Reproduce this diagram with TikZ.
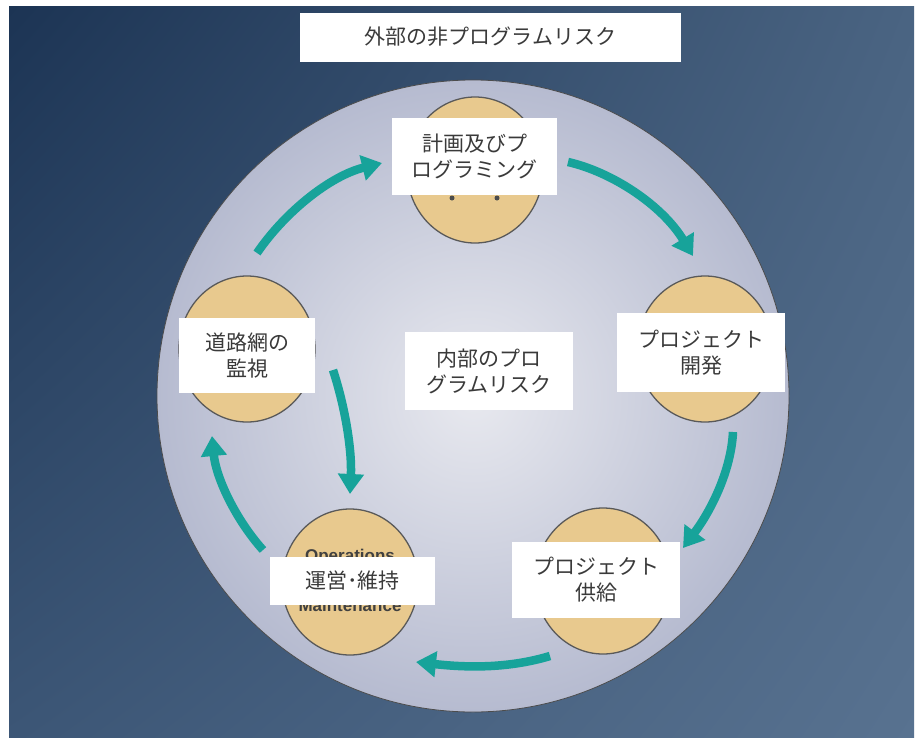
\documentclass[tikz,border=0pt]{standalone}
\usepackage{fontspec}
\setmainfont{Liberation Sans}
\newfontfamily\jp{Noto Sans CJK JP}
\usetikzlibrary{arrows.meta,shapes.geometric,shadings}
\definecolor{bgA}{HTML}{1C3454}
\definecolor{bgB}{HTML}{4A6482}
\definecolor{bgC}{HTML}{3C5676}
\definecolor{bgD}{HTML}{587290}
\definecolor{discIn}{HTML}{E8E9EF}
\definecolor{discOut}{HTML}{B6BBD0}
\definecolor{tanfill}{HTML}{E8C98E}
\definecolor{teal1}{HTML}{17A39A}
\definecolor{txt}{HTML}{3A3A3A}
\begin{document}
\begin{tikzpicture}[x=1pt,y=-1pt,
  lbl/.style={fill=white, inner sep=0pt, align=center, text=txt,
              font=\jp\fontsize{21}{26}\selectfont},
  stage/.style={ellipse, draw=black!65, line width=1.3pt, fill=tanfill,
                minimum width=136pt, minimum height=146pt, inner sep=0pt},
  flow/.style={draw=teal1, line width=8.5pt, line cap=butt,
               -{Triangle[width=25pt,length=20pt]}},
  engl/.style={font=\bfseries\fontsize{17}{19}\selectfont, text=black!75}
]
\useasboundingbox (0,0) rectangle (921,742);
\fill[white] (0,0) rectangle (921,742);
\shade[upper left=bgA, upper right=bgB, lower left=bgC, lower right=bgD]
  (9,6) rectangle (914,737);
% big disc
\shade[inner color=discIn, outer color=discOut] (473,396) circle[radius=316pt];
\draw[black!70, line width=0.8pt] (473,396) circle[radius=316pt];

% outer label
\node[lbl, minimum width=381pt, minimum height=49pt] (ext) at (490.5,37) {外部の非プログラムリスク};

% stage circles
\node[stage] (cTop) at (475,170) {};
\node[stage] (cRight) at (705,349) {};
\node[stage] (cBR) at (603,581) {};
\node[stage] (cBL) at (350,582) {};
\node[stage] (cLeft) at (247,349) {};

% partially hidden English text
\node[engl] (opsEn) at (350,557) {Operations};
\node[engl] (mntEn) at (350,605) {Maintenance};
\fill[black!70] (452,198) circle[radius=2.5pt];
\fill[black!70] (497,198) circle[radius=2.5pt];

% labels
\node[lbl, minimum width=165pt, minimum height=77pt] (lTop) at (474.5,156.5) {計画及びプ\\ログラミング};
\node[lbl, minimum width=168pt, minimum height=79pt] (lRight) at (701,352.5) {プロジェクト\\開発};
\node[lbl, minimum width=168pt, minimum height=76pt] (lBR) at (596,580) {プロジェクト\\供給};
\node[lbl, minimum width=165pt, minimum height=48pt] (lBL) at (352.5,581) {運営･維持};
\node[lbl, minimum width=136pt, minimum height=75pt] (lLeft) at (247,355.5) {道路網の\\監視};
\node[lbl, minimum width=168pt, minimum height=78pt] (lCenter) at (489,371) {内部のプロ\\グラムリスク};

% arrow end points
\coordinate (a1s) at (257,253); \coordinate (a1e) at (382,163);
\coordinate (a2s) at (568,162); \coordinate (a2e) at (693,256);
\coordinate (a3s) at (733,432); \coordinate (a3e) at (683,548);
\coordinate (a4s) at (550,656); \coordinate (a4e) at (416,662);
\coordinate (a5s) at (263,550); \coordinate (a5e) at (212,436);
\coordinate (a6s) at (333,370); \coordinate (a6e) at (350,494);

\draw[flow] (a1s) .. controls (285,212) and (330,176) .. (a1e);
\draw[flow] (a2s) .. controls (612,172) and (662,205) .. (a2e);
\draw[flow] (a3s) .. controls (731,472) and (710,512) .. (a3e);
\draw[flow] (a4s) .. controls (510,668) and (470,668) .. (a4e);
\draw[flow] (a5s) .. controls (236,520) and (216,478) .. (a5e);
\draw[flow] (a6s) .. controls (346,410) and (352,452) .. (a6e);
\end{tikzpicture}
\end{document}
